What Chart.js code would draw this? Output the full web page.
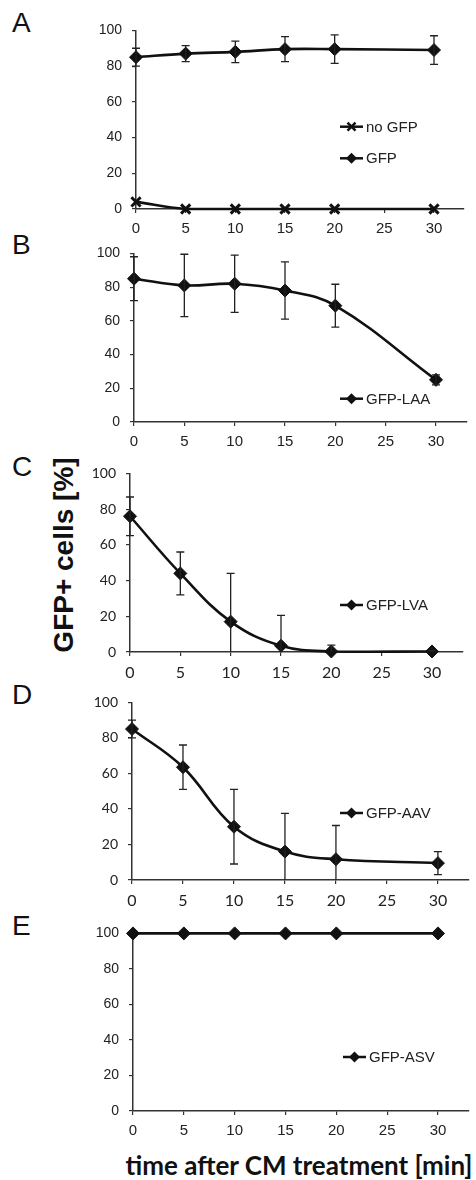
<!DOCTYPE html>
<html>
<head>
<meta charset="utf-8">
<script src="https://cdn.jsdelivr.net/npm/chart.js@4.4.0/dist/chart.umd.min.js"></script>
<style>
  html, body { margin: 0; padding: 0; background: #fff; }
  #page { position: relative; width: 476px; height: 1180px; overflow: hidden; }
  #page canvas { position: absolute; left: 0; }
  .letter { position: absolute; left: 12px; font: 28px "Liberation Sans", Arial, sans-serif; line-height: 28px; color: #111; }
  #ytitle { position: absolute; left: 64px; top: 555px; transform: translate(-50%, -50%) rotate(-90deg);
            font: bold 28px "Liberation Sans", Arial, sans-serif; line-height: 1; white-space: nowrap; color: #111; }
  #xtitle { position: absolute; left: 299px; top: 1165px; transform: translate(-50%, -50%);
            font: bold 26px Lato, "Open Sans", sans-serif; line-height: 1; white-space: nowrap; color: #111; }
</style>
</head>
<body>
<div id="page">
  <div class="letter" style="top:9px">A</div>
  <div class="letter" style="top:231px">B</div>
  <div class="letter" style="top:453px">C</div>
  <div class="letter" style="top:681px">D</div>
  <div class="letter" style="top:912px">E</div>
  <div id="ytitle">GFP+ cells [%]</div>
  <div id="xtitle">time after CM treatment [min]</div>
</div>
<script>
// time points (min) and ticks
const timePoints = [0, 5, 10, 15, 20, 30];
const xTickValues = [0, 5, 10, 15, 20, 25, 30];
const yTickValues = [0, 20, 40, 60, 80, 100];

// panel A
const noGfp = [4, 0, 0, 0, 0, 0];
const noGfpErr = [0, 0, 0, 0, 0, 0];
const gfp = [85, 87, 88, 89.5, 89.5, 89];
const gfpErr = [5, 4.5, 6, 7, 8, 8];
// panel B
const gfpLaa = [85, 81, 82, 78, 69, 25];
const gfpLaaErr = [13, 18.5, 17, 17, 12.7, 3];
// panel C
const gfpLva = [76, 44, 17, 3.5, 0.3, 0.3];
const gfpLvaErr = [10.8, 12, 27, 17, 3.5, 0.5];
// panel D
const gfpAav = [85, 63.5, 30, 16, 11.7, 9.5];
const gfpAavErr = [5, 12.5, 21, 21.5, 19, 6.5];
// panel E
const gfpAsv = [100, 100, 100, 100, 100, 100];
const gfpAsvErr = [0, 0, 0, 0, 0, 0];

const INK = '#111';
const TEXT = '#222';

// vertical error bars with caps, cut off at the plot edges
const errorBars = {
  id: 'errorBars',
  afterDatasetsDraw(chart) {
    const ctx = chart.ctx;
    const y = chart.scales.y;
    const area = chart.chartArea;
    ctx.save();
    ctx.beginPath();
    ctx.rect(0, area.top - 1, chart.width, area.bottom - area.top + 1);
    ctx.clip();
    ctx.strokeStyle = '#222';
    ctx.lineWidth = 1.3;
    chart.data.datasets.forEach((ds, di) => {
      const meta = chart.getDatasetMeta(di);
      (ds.errors || []).forEach((e, i) => {
        if (!e) return;
        const pt = meta.data[i];
        const v = ds.data[i].y;
        const hi = y.getPixelForValue(v + e);
        const lo = y.getPixelForValue(v - e);
        ctx.beginPath();
        ctx.moveTo(pt.x, hi); ctx.lineTo(pt.x, lo);
        ctx.moveTo(pt.x - 4, hi); ctx.lineTo(pt.x + 4, hi);
        ctx.moveTo(pt.x - 4, lo); ctx.lineTo(pt.x + 4, lo);
        ctx.stroke();
      });
    });
    ctx.restore();
  }
};

// small legend drawn inside the plot, like the original
const inlineLegend = {
  id: 'inlineLegend',
  afterDraw(chart, args, opts) {
    const ctx = chart.ctx;
    ctx.save();
    chart.data.datasets.forEach((ds, i) => {
      const x = opts.x, y = opts.ys[i];
      ctx.strokeStyle = INK;
      ctx.fillStyle = INK;
      ctx.lineWidth = 2.5;
      ctx.beginPath();
      ctx.moveTo(x, y); ctx.lineTo(x + 23, y);
      ctx.stroke();
      const cx = x + 11.5, r = 5.5;
      ctx.beginPath();
      if (ds.pointStyle === 'crossRot') {
        ctx.lineWidth = 2.5;
        ctx.moveTo(cx - 4, y - 4); ctx.lineTo(cx + 4, y + 4);
        ctx.moveTo(cx - 4, y + 4); ctx.lineTo(cx + 4, y - 4);
        ctx.stroke();
      } else {
        ctx.moveTo(cx, y - r); ctx.lineTo(cx + r, y); ctx.lineTo(cx, y + r); ctx.lineTo(cx - r, y);
        ctx.closePath();
        ctx.fill();
      }
      ctx.fillStyle = TEXT;
      ctx.font = '15px "Liberation Sans", Arial, sans-serif';
      ctx.textBaseline = 'middle';
      ctx.textAlign = 'left';
      ctx.fillText(ds.label, x + 26, y + 1);
    });
    ctx.restore();
  }
};

const panels = [
  { x0: 136, x30: 434, yTop: 22, yBottom: 209, font: '"Liberation Sans", Arial', sizes: [14, 15],
    legendX: 340, legendYs: [126.7, 158.3],
    series: [
      { label: 'no GFP', values: noGfp, errors: noGfpErr, marker: 'crossRot' },
      { label: 'GFP', values: gfp, errors: gfpErr, marker: 'rectRot' }
    ] },
  { x0: 134, x30: 436, yTop: 245.3, yBottom: 422.7, font: '"Liberation Sans", Arial', sizes: [14, 15],
    legendX: 340, legendYs: [399],
    series: [{ label: 'GFP-LAA', values: gfpLaa, errors: gfpLaaErr, marker: 'rectRot' }] },
  { x0: 130, x30: 432, yTop: 465, yBottom: 651.7, font: 'Lato', sizes: [14, 16],
    legendX: 340, legendYs: [605],
    series: [{ label: 'GFP-LVA', values: gfpLva, errors: gfpLvaErr, marker: 'rectRot' }] },
  { x0: 132, x30: 438, yTop: 694.3, yBottom: 880.7, font: 'Lato', sizes: [14, 16],
    legendX: 340, legendYs: [813.3],
    series: [{ label: 'GFP-AAV', values: gfpAav, errors: gfpAavErr, marker: 'rectRot' }] },
  { x0: 133, x30: 438, yTop: 925, yBottom: 1111, font: '"Liberation Sans", Arial', sizes: [14, 15],
    legendX: 343, legendYs: [1057],
    series: [{ label: 'GFP-ASV', values: gfpAsv, errors: gfpAsvErr, marker: 'rectRot' }] }
];

const page = document.getElementById('page');

panels.forEach(p => {
  const padTop = 10, axisH = 34;
  const top = p.yTop - padTop;
  const canvas = document.createElement('canvas');
  canvas.width = 476;
  canvas.height = Math.round(p.yBottom - p.yTop + padTop + axisH);
  canvas.style.top = top + 'px';
  page.appendChild(canvas);
  const xRight = p.x0 + 33 * (p.x30 - p.x0) / 30;

  const axisGrid = { display: true, drawOnChartArea: false, drawTicks: true, tickLength: 4, color: '#333', lineWidth: 1.2 };
  const axisBorder = { display: true, color: '#333', width: 1.5 };

  new Chart(canvas, {
    type: 'line',
    data: {
      datasets: p.series.map(s => ({
        label: s.label,
        data: timePoints.map((t, i) => ({ x: t, y: s.values[i] })),
        errors: s.errors,
        borderColor: INK,
        backgroundColor: INK,
        borderWidth: 2.6,
        tension: 0.4,
        pointStyle: s.marker,
        pointRadius: 6.5,
        pointBorderWidth: s.marker === 'crossRot' ? 3 : 1,
        clip: false
      }))
    },
    options: {
      responsive: false,
      animation: false,
      events: [],
      layout: { padding: { top: padTop, right: 476 - xRight, left: 0, bottom: 0 } },
      scales: {
        x: {
          type: 'linear', min: 0, max: 33,
          afterBuildTicks: sc => { sc.ticks = xTickValues.map(v => ({ value: v })); },
          afterFit: sc => { sc.height = axisH; },
          ticks: { color: TEXT, padding: 7, maxRotation: 0, font: { family: p.font, size: p.sizes[1] } },
          grid: axisGrid, border: axisBorder
        },
        y: {
          min: 0, max: 100,
          afterBuildTicks: sc => { sc.ticks = yTickValues.map(v => ({ value: v })); },
          afterFit: sc => { sc.width = p.x0; },
          ticks: { color: TEXT, padding: 10, font: { family: p.font, size: p.sizes[0] } },
          grid: axisGrid, border: axisBorder
        }
      },
      plugins: {
        legend: { display: false },
        tooltip: { enabled: false },
        inlineLegend: { x: p.legendX, ys: p.legendYs.map(y => y - top) }
      }
    },
    plugins: [errorBars, inlineLegend]
  });
});
</script>
</body>
</html>
